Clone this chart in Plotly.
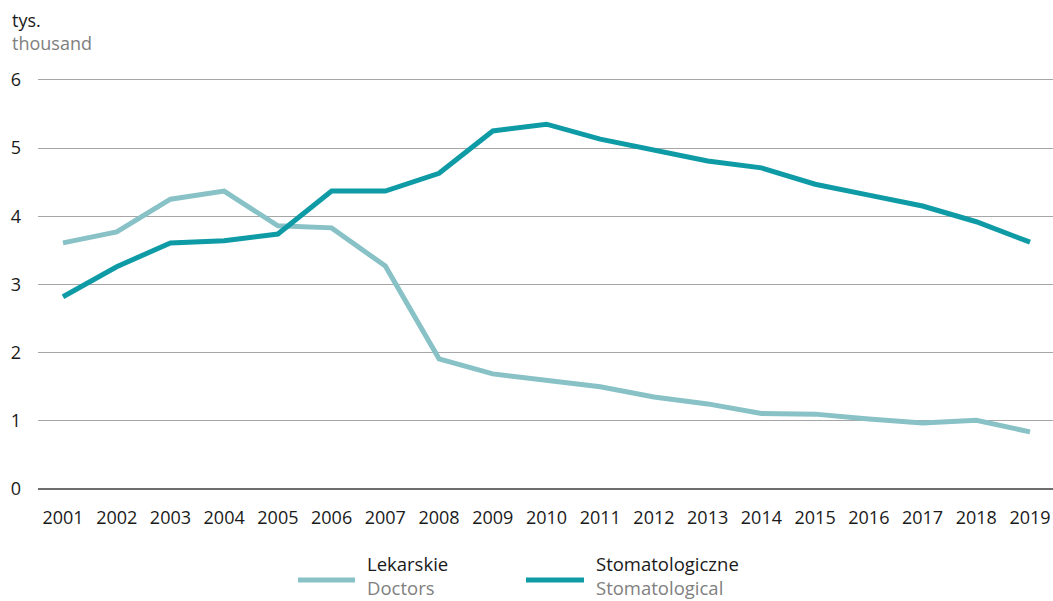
import plotly.graph_objects as go

years = list(range(2001, 2020))
lekarskie = [3.61, 3.77, 4.25, 4.37, 3.86, 3.83, 3.27, 1.91, 1.69, 1.60, 1.50,
             1.35, 1.25, 1.11, 1.10, 1.03, 0.97, 1.01, 0.84]
stomatologiczne = [2.82, 3.26, 3.61, 3.64, 3.74, 4.37, 4.37, 4.63, 5.25, 5.35, 5.13,
                   4.97, 4.81, 4.71, 4.47, 4.31, 4.15, 3.92, 3.62]
y_ticks = [0, 1, 2, 3, 4, 5, 6]

c_lek = "#88c2c6"
c_stom = "#0e9ba6"
font = "Open Sans"

# plot area in pixels: left 38, top 73, bottom 496, width 1015, height 423
def px(x):
    return (x - 38) / 1015


def py(y):
    return (496 - y) / 423


fig = go.Figure()
fig.add_trace(go.Scatter(x=years, y=lekarskie, mode="lines",
                         line=dict(color=c_lek, width=5), name="Lekarskie"))
fig.add_trace(go.Scatter(x=years, y=stomatologiczne, mode="lines",
                         line=dict(color=c_stom, width=5), name="Stomatologiczne"))

fig.update_layout(
    width=1053, height=601,
    margin=dict(l=38, r=0, t=73, b=105),
    plot_bgcolor="white", paper_bgcolor="white",
    showlegend=False,
    font=dict(family=font, size=18, color="#1a1a1a"),
    xaxis=dict(range=[2000.535, 2019.428], tickvals=years, ticktext=[str(y) for y in years],
               showgrid=False, zeroline=False, showline=False, ticks="",
               ticklabelstandoff=9, tickfont=dict(size=18)),
    yaxis=dict(range=[-0.1, 6.1], tickvals=y_ticks, showgrid=True, gridcolor="#a6a6a6",
               gridwidth=1, zeroline=True, zerolinecolor="#6e6e6e", zerolinewidth=1.5,
               showline=False, ticks="", ticklabelstandoff=16, tickfont=dict(size=18)),
)

# unit label (Polish / English)
fig.add_annotation(xref="paper", yref="paper", x=px(10), y=py(32), align="left",
                   text="tys.<br><span style='color:#808080'>thousand</span>",
                   showarrow=False, xanchor="left", yanchor="middle",
                   font=dict(size=18, color="#1a1a1a"))

# legend drawn by hand
legend = [("Lekarskie", "Doctors", c_lek, 298, 355, 365),
          ("Stomatologiczne", "Stomatological", c_stom, 526, 584, 594)]
for pl, en, col, x0, x1, xt in legend:
    fig.add_shape(type="line", xref="paper", yref="paper",
                  x0=px(x0), x1=px(x1), y0=py(580), y1=py(580),
                  line=dict(color=col, width=5))
    fig.add_annotation(xref="paper", yref="paper", x=px(xt), y=py(575), align="left",
                       text=f"{pl}<br><span style='color:#808080'>{en}</span>",
                       showarrow=False, xanchor="left", yanchor="middle",
                       font=dict(size=18.5, color="#1a1a1a"))

fig.write_html("out.html")
